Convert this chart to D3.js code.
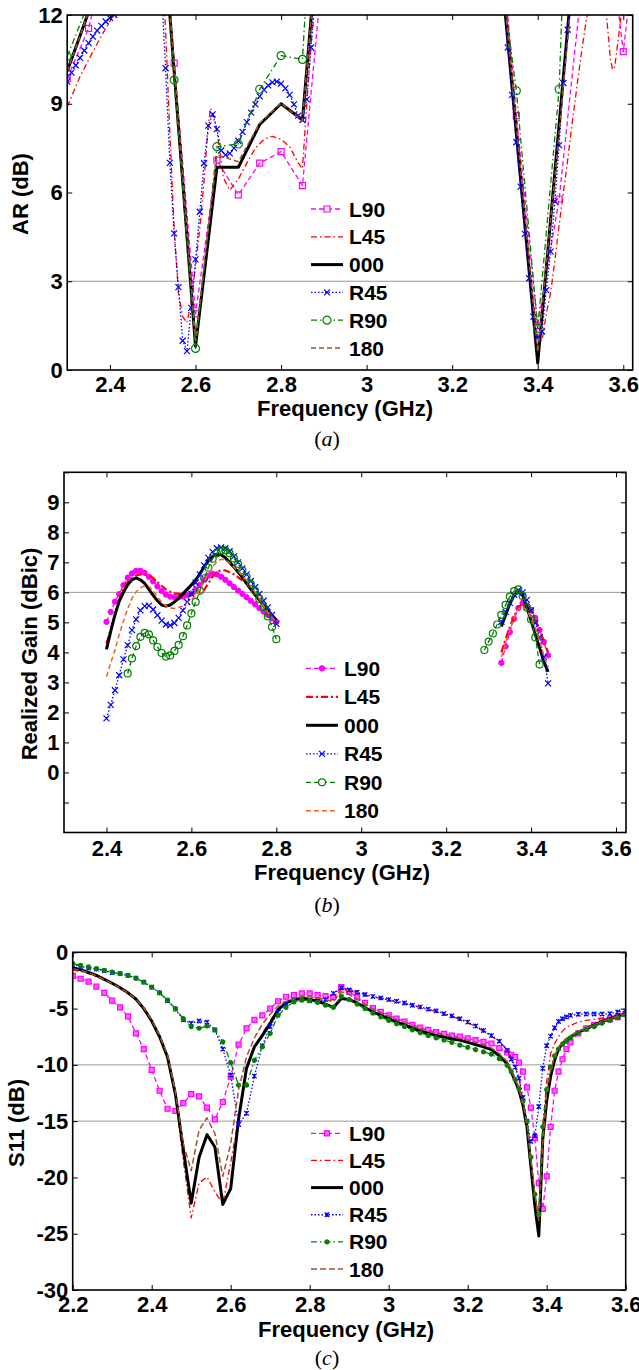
<!DOCTYPE html>
<html>
<head>
<meta charset="utf-8">
<script src="https://cdn.jsdelivr.net/npm/d3@7"></script>
<style>
body { margin: 0; background: #fff; }
text { font-family: "Liberation Sans", Arial, sans-serif; }
</style>
</head>
<body>
<div id="chart"></div>
<script>
// regular frequency grid helper (GHz)
var steps = function(a, b, s) {
    return d3.range(Math.round(a / s), Math.round(b / s) + 1).map(function(i) { return +(i * s).toFixed(3); });
};

var names = ["L90", "L45", "000", "R45", "R90", "180"];

// ---------- (a) axial ratio ----------
var freqA = steps(2.30, 3.65, 0.05);
var arL90 = [9.85, 11.55, 14.5, 18, 20, 10.37, 1.9, 7.09, 5.92, 6.99, 7.38, 6.23, 14, 20, 20, 20, 20, 20, 20, 20, 17, 8.6, 1.5, 5.78, 12.6, 16.8, 10.76, 17];
var ar000 = [10.1, 12.1, 14, 16, 19.6, 10.1, 0.8, 6.85, 6.85, 8.3, 9.0, 8.45, 17, 20, 20, 20, 20, 20, 20, 20, 15.8, 8.0, 0.23, 8.3, 16.4, 20, 20, 20];
var arR90 = [10.6, 12.4, 15, 20, 19, 9.8, 0.73, 7.55, 7.64, 9.49, 10.63, 10.5, 23, 25, 25, 25, 25, 25, 25, 25, 15, 9.44, 1.41, 9.49, 30, 30, 30, 30];
var ar180 = [10.1, 12.1, 14, 16, 19, 10.4, 1.0, 7.27, 7.04, 8.34, 9.02, 8.42, 17, 20, 20, 20, 20, 20, 20, 20, 16, 8.3, 0.6, 8.0, 16, 20, 20, 20];
var freqAL45 = [2.30, 2.33, 2.36, 2.39, 2.42, 2.45, 2.52, 2.53, 2.54, 2.55, 2.56, 2.57, 2.58, 2.59, 2.60, 2.61, 2.62, 2.63, 2.635, 2.645, 2.655, 2.665, 2.68, 2.70, 2.72, 2.74, 2.76, 2.78, 2.80, 2.82, 2.84, 2.85, 2.86, 2.87, 2.88, 2.90,
    3.30, 3.32, 3.33, 3.34, 3.35, 3.36, 3.37, 3.38, 3.39, 3.40, 3.41, 3.42, 3.43, 3.44, 3.45, 3.46, 3.47, 3.48, 3.49, 3.50, 3.51, 3.52, 3.53, 3.55, 3.56, 3.57, 3.575, 3.58, 3.59, 3.60, 3.62];
var arL45 = [8.9, 9.92, 10.76, 11.55, 12.3, 13, 14, 11.5, 8.0, 4.8, 2.6, 1.8, 1.6, 2.3, 3.5, 4.8, 6.4, 8.3, 8.85, 8.5, 7.6, 6.5, 6.08, 6.45, 7.0, 7.5, 7.8, 7.9, 7.8, 7.55, 7.0, 6.8, 9.0, 11.0, 12.5, 16,
    16, 14, 11.8, 10.1, 8.5, 6.9, 5.3, 3.8, 2.3, 1.0, 1.0, 1.9, 2.6, 3.7, 4.9, 6.0, 7.1, 8.3, 9.4, 10.5, 11.5, 12.4, 13.5, 13.5, 12.1, 10.5, 10.15, 10.25, 11.4, 12.6, 15];
var freqAR45 = steps(2.30, 2.42, 0.01).concat(steps(2.52, 2.88, 0.01), steps(3.32, 3.48, 0.01));
var arR45 = [9.75, 10.05, 10.3, 10.55, 10.8, 11.05, 11.27, 11.47, 11.63, 11.78, 11.9, 12.0, 12.2,
    13.0, 10.2, 7.0, 4.62, 2.8, 0.99, 0.64, 2.1, 3.74, 5.35, 6.99, 8.26, 8.64, 8.14, 7.42, 7.27, 7.32, 7.5, 7.75, 8.05, 8.38, 8.7, 8.98, 9.25, 9.47, 9.62, 9.72, 9.75, 9.68, 9.52, 9.3, 8.98, 8.6, 8.45, 9.15, 10.9, 12.8,
    13.0, 10.9, 9.3, 7.7, 6.2, 4.6, 3.1, 1.8, 1.1, 1.3, 2.7, 4.0, 5.7, 7.6, 9.7, 11.5, 13.5];

// ---------- (b) realized gain ----------
var freqB = steps(2.40, 2.80, 0.01);
var freqB2 = steps(3.33, 3.44, 0.01);
var freqBg = steps(2.45, 2.80, 0.01);
var freqBg2 = steps(3.29, 3.42, 0.01);
var gL90 = [5.02, 5.35, 5.69, 5.94, 6.24, 6.49, 6.63, 6.72, 6.72, 6.65, 6.52, 6.37, 6.2, 6.05, 5.93, 5.86, 5.84, 5.84, 5.86, 5.9, 5.96, 6.1, 6.25, 6.42, 6.56, 6.62, 6.6, 6.52, 6.42, 6.3, 6.18, 6.06, 5.95, 5.84, 5.72, 5.6, 5.48, 5.36, 5.25, 5.13, 5.02];
var gL45 = [4.3, 4.75, 5.25, 5.75, 6.15, 6.35, 6.48, 6.56, 6.6, 6.6, 6.56, 6.48, 6.35, 6.22, 6.1, 6.02, 5.97, 5.95, 5.95, 5.95, 5.95, 5.97, 6.0, 6.08, 6.3, 6.52, 6.68, 6.74, 6.73, 6.67, 6.6, 6.5, 6.4, 6.28, 6.1, 5.9, 5.75, 5.55, 5.35, 5.15, 4.97];
var g000 = [4.1, 4.7, 5.25, 5.7, 6.0, 6.25, 6.42, 6.48, 6.42, 6.3, 6.1, 5.9, 5.72, 5.58, 5.54, 5.58, 5.68, 5.8, 5.95, 6.1, 6.25, 6.42, 6.62, 6.85, 7.05, 7.2, 7.27, 7.25, 7.15, 7.0, 6.85, 6.68, 6.5, 6.3, 6.1, 5.92, 5.75, 5.58, 5.4, 5.24, 5.08];
var gR45 = [1.8, 2.25, 2.74, 3.24, 3.77, 4.24, 4.74, 5.1, 5.4, 5.54, 5.56, 5.43, 5.24, 5.06, 4.93, 4.9, 4.98, 5.15, 5.4, 5.68, 5.95, 6.32, 6.6, 6.9, 7.15, 7.35, 7.47, 7.5, 7.47, 7.37, 7.2, 7.0, 6.8, 6.6, 6.38, 6.17, 5.95, 5.72, 5.5, 5.25, 4.95];
var gR90 = [3.3, 3.8, 4.21, 4.52, 4.65, 4.6, 4.4, 4.18, 3.98, 3.86, 3.9, 4.05, 4.25, 4.54, 4.9, 5.3, 5.68, 6.05, 6.47, 6.82, 7.12, 7.3, 7.4, 7.4, 7.3, 7.13, 6.95, 6.73, 6.52, 6.28, 6.05, 5.78, 5.5, 5.2, 4.85, 4.44];
var g180 = [3.19, 3.65, 4.08, 4.6, 5.05, 5.45, 5.8, 6.02, 6.15, 6.22, 6.2, 6.05, 5.85, 5.68, 5.55, 5.48, 5.46, 5.5, 5.55, 5.65, 5.76, 5.9, 6.1, 6.35, 6.62, 6.85, 7.02, 7.1, 7.08, 6.98, 6.85, 6.7, 6.55, 6.4, 6.2, 6.0, 5.78, 5.55, 5.35, 5.17, 5.0];
var gL90b = [3.65, 4.2, 4.68, 5.12, 5.48, 5.65, 5.55, 5.42, 5.15, 4.75, 4.35, 3.9];
var gL45b = [4.0, 4.45, 4.85, 5.2, 5.5, 5.62, 5.55, 5.38, 5.1, 4.75, 4.38, 4.0];
var g000b = [4.86, 5.25, 5.62, 5.9, 6.02, 5.9, 5.5, 5.05, 4.6, 4.15, 3.7, 3.35];
var gR45b = [5.02, 5.35, 5.65, 5.92, 6.07, 6.0, 5.75, 5.4, 4.98, 4.5, 3.85, 2.97];
var gR90b = [4.08, 4.36, 4.63, 4.93, 5.25, 5.58, 5.86, 6.04, 6.1, 5.88, 5.5, 5.1, 4.5, 3.6];
var g180b = [3.85, 4.3, 4.75, 5.15, 5.45, 5.52, 5.4, 5.15, 4.8, 4.4, 3.9, 3.5];

// ---------- (c) S11 ----------
var freqC = steps(2.20, 3.30, 0.02).concat(steps(3.31, 3.45, 0.01), steps(3.46, 3.60, 0.02));
var sL90 = [-2.1, -2.35, -2.6, -3.05, -3.6, -4.3, -4.9, -5.7, -7.2, -8.6, -10.45, -12.3, -13.9, -14.1, -13.4, -12.6, -12.8, -13.8, -14.85, -13.3, -11.05, -8.2, -6.75, -6.0, -5.6, -5.0, -4.35, -3.95, -3.8, -3.65, -3.65, -3.8, -3.9, -3.95, -3.1, -3.5, -4.0, -4.5, -4.95, -5.3, -5.6, -5.9, -6.15, -6.45, -6.7, -6.9, -7.1, -7.25, -7.4, -7.5, -7.65, -7.8, -7.95, -8.1, -8.5, -8.9,
    -9.1, -9.3, -9.8, -10.6, -12.0, -13.8, -16.5, -20.5, -22.8, -19.9, -15.5, -12.3, -10.6, -9.5, -8.6,
    -8.0, -7.2, -6.75, -6.45, -6.1, -5.95, -5.75, -5.5];
var sL45 = [-1.55, -1.7, -1.9, -2.15, -2.45, -2.8, -3.2, -3.65, -4.2, -5.0, -6.1, -7.5, -9.4, -12.8, -18.5, -23.6, -20.5, -19.95, -21.3, -22.3, -18.7, -14.7, -10.5, -8.4, -7.2, -6.1, -5.0, -4.45, -4.15, -4.0, -4.05, -4.15, -4.35, -4.2, -3.3, -3.4, -3.6, -3.8, -3.97, -4.1, -4.25, -4.4, -4.55, -4.75, -4.9, -5.1, -5.25, -5.5, -5.7, -5.95, -6.25, -6.6, -7.0, -7.45, -7.95, -8.6,
    -9.3, -10.1, -11.2, -13.2, -15.5, -18.5, -21.5, -24.0, -15.5, -11.5, -9.0, -8.1, -7.5, -7.0, -6.65,
    -6.5, -6.2, -6.05, -5.95, -5.85, -5.75, -5.6, -5.45];
var s000 = [-1.37, -1.55, -1.78, -2.05, -2.4, -2.75, -3.15, -3.6, -4.15, -5.0, -6.1, -7.5, -9.3, -12.6, -17.5, -22.3, -18.2, -16.2, -17.3, -22.4, -21.0, -14.8, -10.3, -8.4, -7.4, -6.3, -5.1, -4.5, -4.2, -4.1, -4.2, -4.35, -4.6, -4.9, -4.1, -4.2, -4.5, -4.9, -5.3, -5.6, -5.9, -6.2, -6.45, -6.75, -7.0, -7.2, -7.4, -7.55, -7.7, -7.8, -8.0, -8.2, -8.4, -8.65, -9.2, -9.9,
    -10.6, -11.4, -12.3, -13.6, -15.5, -19.0, -22.5, -25.2, -16.6, -13.2, -11.0, -9.6, -8.6, -8.1, -7.85,
    -7.55, -7.1, -6.8, -6.45, -6.15, -5.9, -5.65, -5.45];
var sR45 = [-1.1, -1.25, -1.4, -1.5, -1.65, -1.8, -1.9, -2.05, -2.3, -2.65, -3.1, -3.6, -4.3, -5.05, -6.0, -6.3, -6.1, -6.2, -6.9, -8.6, -10.9, -15.3, -14.3, -11.0, -8.3, -6.6, -5.3, -4.55, -4.25, -4.2, -4.3, -4.35, -4.2, -3.65, -3.15, -3.35, -3.55, -3.75, -3.92, -4.05, -4.2, -4.35, -4.5, -4.7, -4.85, -5.05, -5.2, -5.45, -5.65, -5.9, -6.2, -6.55, -6.95, -7.4, -7.9, -8.7,
    -9.5, -10.2, -11.2, -12.9, -15.0, -16.8, -16.3, -13.7, -10.3, -8.3, -7.45, -6.7, -6.15, -5.9, -5.75,
    -5.6, -5.5, -5.48, -5.48, -5.48, -5.45, -5.3, -5.25];
var sR90 = [-1.0, -1.15, -1.3, -1.45, -1.6, -1.75, -1.9, -2.05, -2.3, -2.65, -3.1, -3.6, -4.25, -5.0, -5.9, -6.6, -6.75, -6.55, -6.9, -7.95, -9.8, -11.8, -11.8, -9.6, -8.4, -7.2, -5.6, -4.9, -4.4, -4.25, -4.3, -4.45, -4.7, -4.9, -3.9, -4.2, -4.6, -5.0, -5.4, -5.75, -6.05, -6.35, -6.6, -6.9, -7.15, -7.4, -7.6, -7.8, -8.0, -8.25, -8.45, -8.65, -8.85, -9.05, -9.45, -10.05,
    -10.6, -11.3, -12.1, -13.2, -15.0, -18.2, -21.5, -23.3, -15.5, -12.2, -10.2, -9.2, -8.6, -8.15, -7.9,
    -7.6, -7.15, -6.85, -6.6, -6.3, -6.05, -5.8, -5.55];
var s180 = [-1.45, -1.6, -1.82, -2.1, -2.42, -2.78, -3.18, -3.62, -4.15, -4.95, -6.0, -7.4, -9.1, -12.4, -17.0, -19.4, -15.8, -14.7, -16.1, -19.9, -17.0, -12.2, -9.3, -7.6, -6.4, -5.5, -4.75, -4.35, -4.15, -3.95, -3.95, -4.05, -4.2, -4.4, -3.5, -3.75, -4.15, -4.6, -5.0, -5.35, -5.65, -5.95, -6.2, -6.5, -6.75, -7.0, -7.2, -7.35, -7.5, -7.65, -7.8, -8.0, -8.2, -8.5, -9.0, -9.7,
    -10.4, -11.2, -12.1, -13.4, -15.2, -18.5, -21.5, -23.8, -17.0, -12.5, -10.5, -9.2, -8.4, -7.95, -7.65,
    -7.4, -7.0, -6.75, -6.45, -6.15, -5.9, -5.65, -5.45];

var svg = d3.select("#chart").append("svg")
    .attr("width", 639)
    .attr("height", 1370)
    .style("background", "#fff");

var markerPath = function(type, s) {
    var h = s / 2;
    if (type == "square") return "M" + (-h) + "," + (-h) + "h" + s + "v" + s + "h" + (-s) + "Z";
    if (type == "x") return "M" + (-h) + "," + (-h) + "L" + h + "," + h + "M" + (-h) + "," + h + "L" + h + "," + (-h);
    if (type == "star") return "M" + (-h) + "," + (-h) + "L" + h + "," + h + "M" + (-h) + "," + h + "L" + h + "," + (-h) + "M0," + (-h) + "V" + h;
    // circle
    return "M" + (-h) + ",0a" + h + "," + h + " 0 1,0 " + s + ",0a" + h + "," + h + " 0 1,0 " + (-s) + ",0Z";
};

var drawPanel = function(p) {
    var x = d3.scaleLinear().domain(p.xDom).range([p.left, p.right]);
    var y = d3.scaleLinear().domain(p.yDom).range([p.bottom, p.top]);
    var g = svg.append("g");

    svg.append("clipPath").attr("id", "clip" + p.id)
	.append("rect")
	.attr("x", p.left).attr("y", p.top)
	.attr("width", p.right - p.left).attr("height", p.bottom - p.top);

    // reference lines
    g.selectAll("line.grid").data(p.grid).enter().append("line")
	.attr("x1", p.left).attr("x2", p.right)
	.attr("y1", function(d) { return y(d); })
	.attr("y2", function(d) { return y(d); })
	.attr("stroke", "#8c8c8c")
	.attr("stroke-width", 0.9);

    var plot = g.append("g").attr("clip-path", "url(#clip" + p.id + ")");
    var line = d3.line().x(function(d) { return x(d[0]); }).y(function(d) { return y(d[1]); });

    p.series.forEach(function(s) {
	s.segs.forEach(function(seg) {
	    var pts = seg[0].map(function(f, i) { return [f, seg[1][i]]; });
	    plot.append("path").datum(pts)
		.attr("d", line)
		.attr("fill", "none")
		.attr("stroke", s.color)
		.attr("stroke-width", s.width)
		.attr("stroke-dasharray", s.dash || null)
		.attr("stroke-linejoin", "round");
	    if (s.marker) {
		plot.append("g").selectAll("path").data(pts).enter().append("path")
		    .attr("d", markerPath(s.marker, s.msize))
		    .attr("transform", function(d) { return "translate(" + x(d[0]) + "," + y(d[1]) + ")"; })
		    .attr("fill", s.mfill || "none")
		    .attr("stroke", s.color)
		    .attr("stroke-width", 1.2);
	    }
	});
    });

    // axes, ticks inside on all four sides
    var fmt = function(d) { return String(d); };
    var bx = g.append("g").attr("transform", "translate(0," + p.bottom + ")")
	.call(d3.axisBottom(x).tickValues(p.xTicks).tickSize(-5).tickPadding(p.xPad).tickFormat(fmt));
    var tx = g.append("g").attr("transform", "translate(0," + p.top + ")")
	.call(d3.axisTop(x).tickValues(p.xTicks).tickSize(-5).tickFormat(""));
    var ly = g.append("g").attr("transform", "translate(" + p.left + ",0)")
	.call(d3.axisLeft(y).tickValues(p.yTicks).tickSize(-5).tickPadding(4.5).tickFormat(p.yFormat || fmt));
    var ry = g.append("g").attr("transform", "translate(" + p.right + ",0)")
	.call(d3.axisRight(y).tickValues(p.yTicks).tickSize(-5).tickFormat(""));
    [bx, tx, ly, ry].forEach(function(a) {
	a.select(".domain").remove();
	a.selectAll("line").attr("stroke", "#000").attr("stroke-width", 1);
	a.attr("font-size", 22).attr("font-family", "'Liberation Sans', Arial, sans-serif").attr("font-weight", "bold");
	a.selectAll("text").attr("fill", "#000");
    });

    g.append("rect")
	.attr("x", p.left).attr("y", p.top)
	.attr("width", p.right - p.left).attr("height", p.bottom - p.top)
	.attr("fill", "none").attr("stroke", "#000").attr("stroke-width", 1.6);

    // legend
    var lg = g.append("g");
    p.series.forEach(function(s, i) {
	var yy = p.legend.y + i * p.legend.dy;
	lg.append("line")
	    .attr("x1", p.legend.x).attr("x2", p.legend.x + 32)
	    .attr("y1", yy).attr("y2", yy)
	    .attr("stroke", s.color)
	    .attr("stroke-width", s.width)
	    .attr("stroke-dasharray", s.dash || null);
	if (s.marker) {
	    lg.append("path")
		.attr("d", markerPath(s.marker, s.msize))
		.attr("transform", "translate(" + (p.legend.x + 16) + "," + yy + ")")
		.attr("fill", s.mfill || "#fff")
		.attr("stroke", s.color)
		.attr("stroke-width", 1.2);
	}
	lg.append("text")
	    .attr("x", p.legend.x + 38).attr("y", yy)
	    .attr("dy", "0.36em")
	    .attr("font-size", 21)
	    .attr("font-weight", "bold")
	    .text(s.name);
    });

    g.append("text")
	.attr("x", p.xlab[0]).attr("y", p.xlab[1])
	.attr("text-anchor", "middle")
	.attr("font-size", 22)
	.attr("font-weight", "bold")
	.text("Frequency (GHz)");

    g.append("text")
	.attr("transform", "translate(" + p.ylab[0] + "," + p.ylab[1] + ") rotate(-90)")
	.attr("text-anchor", "middle")
	.attr("font-size", 22)
	.attr("font-weight", "bold")
	.text(p.ytitle);

    var cap = g.append("text")
	.attr("x", 327).attr("y", p.capY)
	.attr("text-anchor", "middle")
	.attr("font-size", 22)
	.style("font-family", "'Liberation Serif', 'Times New Roman', serif");
    cap.append("tspan").text("(");
    cap.append("tspan").attr("font-style", "italic").text(p.cap);
    cap.append("tspan").text(")");
};

var brown = "#a0522d";

drawPanel({
    id: "a", left: 67.2, right: 632.7, top: 15, bottom: 370,
    xDom: [2.3, 3.622], yDom: [0, 12],
    xTicks: [2.4, 2.6, 2.8, 3, 3.2, 3.4, 3.6], yTicks: [0, 3, 6, 9, 12],
    xPad: 6.5, grid: [3],
    series: [
	{name: names[0], segs: [[freqA, arL90]], color: "#ff00ff", width: 1.3, dash: "5,3", marker: "square", msize: 6},
	{name: names[1], segs: [[freqAL45, arL45]], color: "#ff0000", width: 1.3, dash: "6,3,1.5,3"},
	{name: names[2], segs: [[freqA, ar000]], color: "#000", width: 3},
	{name: names[3], segs: [[freqAR45, arR45]], color: "#0000ff", width: 1.3, dash: "1.5,2", marker: "x", msize: 6},
	{name: names[4], segs: [[freqA, arR90]], color: "#008000", width: 1.3, dash: "6,3,1.5,3", marker: "circle", msize: 8},
	{name: names[5], segs: [[freqA, ar180]], color: brown, width: 1.5, dash: "5,3"}
    ],
    legend: {x: 311, y: 209, dy: 27.8},
    xlab: [345, 416], ylab: [28, 194], ytitle: "AR (dB)",
    cap: "a", capY: 446
});

drawPanel({
    id: "b", left: 64, right: 626, top: 472.3, bottom: 832.5,
    xDom: [2.3, 3.6235], yDom: [-2, 10],
    xTicks: [2.4, 2.6, 2.8, 3, 3.2, 3.4, 3.6], yTicks: d3.range(-1, 11),
    yFormat: function(d) { return (d >= 0 && d <= 9) ? String(d) : ""; },
    xPad: 7.5, grid: [6],
    series: [
	{name: names[0], segs: [[freqB, gL90], [freqB2, gL90b]], color: "#ff00ff", width: 1.3, dash: "5,3", marker: "circle", msize: 5, mfill: "#ff00ff"},
	{name: names[1], segs: [[freqB, gL45], [freqB2, gL45b]], color: "#ff0000", width: 2.2, dash: "7,3,2,3"},
	{name: names[2], segs: [[freqB, g000], [freqB2, g000b]], color: "#000", width: 3},
	{name: names[3], segs: [[freqB, gR45], [freqB2, gR45b]], color: "#0000ff", width: 1.3, dash: "1.5,2", marker: "x", msize: 6},
	{name: names[4], segs: [[freqBg, gR90], [freqBg2, gR90b]], color: "#008000", width: 1.3, dash: "5,3", marker: "circle", msize: 7},
	{name: names[5], segs: [[freqB, g180], [freqB2, g180b]], color: "#e8682a", width: 1.5, dash: "5,3"}
    ],
    legend: {x: 306, y: 668.3, dy: 28.5},
    xlab: [342, 880], ylab: [37, 654], ytitle: "Realized Gain (dBic)",
    cap: "b", capY: 912
});

drawPanel({
    id: "c", left: 72.7, right: 625.7, top: 952.3, bottom: 1290,
    xDom: [2.2, 3.6], yDom: [-30, 0],
    xTicks: [2.2, 2.4, 2.6, 2.8, 3, 3.2, 3.4, 3.6], yTicks: [-30, -25, -20, -15, -10, -5, 0],
    xPad: 6.5, grid: [-10, -15],
    series: [
	{name: names[0], segs: [[freqC, sL90]], color: "#ff00ff", width: 1.3, dash: "5,3", marker: "square", msize: 5, mfill: "#ff66ff"},
	{name: names[1], segs: [[freqC, sL45]], color: "#ff0000", width: 1.3, dash: "6,3,1.5,3"},
	{name: names[2], segs: [[freqC, s000]], color: "#000", width: 3},
	{name: names[3], segs: [[freqC, sR45]], color: "#0000ff", width: 1.3, dash: "1.5,2", marker: "star", msize: 4.5},
	{name: names[4], segs: [[freqC, sR90]], color: "#008000", width: 1.3, dash: "6,3,1.5,3", marker: "circle", msize: 4, mfill: "#008000"},
	{name: names[5], segs: [[freqC, s180]], color: brown, width: 1.5, dash: "6,3"}
    ],
    legend: {x: 311, y: 1133.3, dy: 27.15},
    xlab: [346, 1337], ylab: [23.5, 1123], ytitle: "S11 (dB)",
    cap: "c", capY: 1365
});
</script>
</body>
</html>
